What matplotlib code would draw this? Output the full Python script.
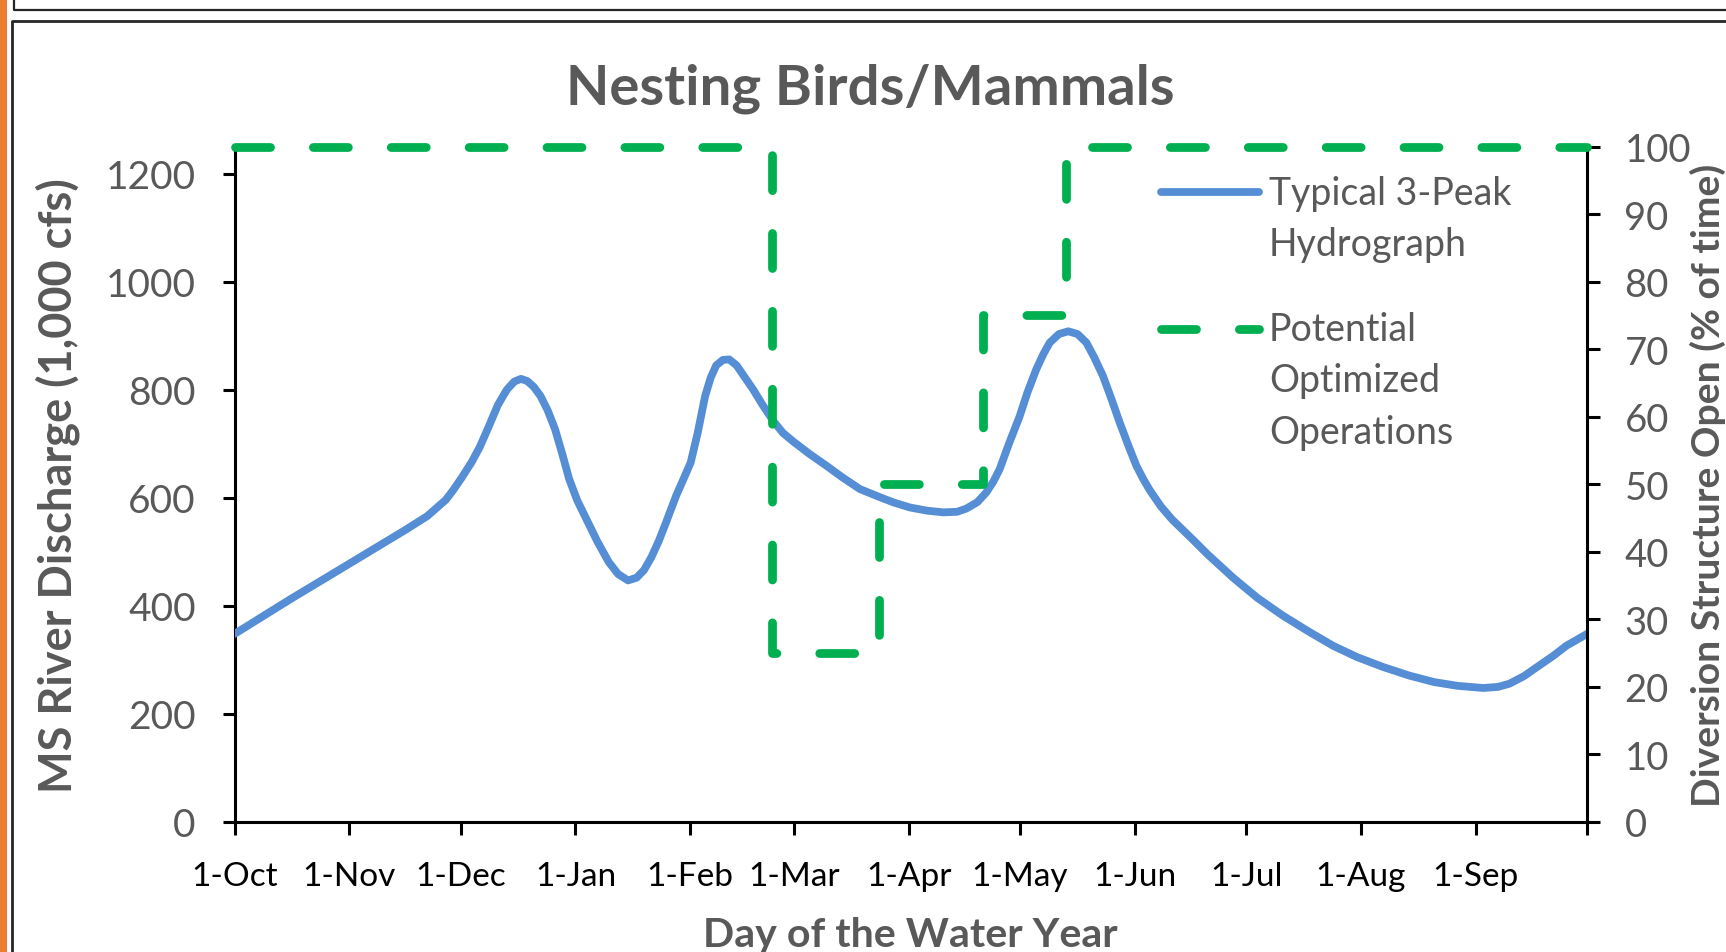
import numpy as np
import matplotlib
matplotlib.use("Agg")
import matplotlib.pyplot as plt
from matplotlib.lines import Line2D
from matplotlib.patches import Rectangle

# ---------------- data ----------------
days = [0, 15, 31, 46, 52, 57, 59, 61.4, 64, 66.2, 68.5, 71.1, 73.5, 75.5, 77.3, 79,
        80.8, 82.6, 84.5, 86.5, 88.5, 90.3, 92.5, 95, 98, 101, 103.5, 106.2, 108.5,
        110.5, 112.5, 114.5, 116.5, 119.2, 121, 123.1, 125, 127, 128.5, 130, 131.8,
        133.5, 135.5, 137.5, 140, 142.5, 145.4, 148, 150.8, 155, 159.8, 164, 168.8,
        174.2, 178, 182.3, 187, 191.3, 195, 197.5, 200.5, 202.9, 204.8, 206.5, 209,
        211.9, 214, 216.4, 218.3, 220, 222.5, 225, 227.5, 229.9, 232, 234.4, 236.7,
        238.9, 241.2, 243.4, 245.3, 247, 250, 253, 256, 259, 262.5, 269.5, 276, 282.9,
        290, 296.5, 303, 309.9, 317, 323.7, 330, 337, 341, 344.1, 348, 352.2, 356,
        359.4, 365]
discharge = [348, 412, 478, 540, 566, 596, 614, 638, 666, 694, 730, 772, 800, 815, 820,
             816, 805, 788, 762, 727, 680, 635, 595, 560, 518, 481, 459, 447, 452, 466,
             490, 520, 555, 604, 632, 665, 720, 788, 822, 845, 855, 856, 845, 825, 800,
             772, 742, 720, 704, 682, 659, 638, 616, 601, 591, 582, 576, 573, 574, 580,
             592, 610, 630, 653, 700, 751, 795, 838, 866, 887, 903, 908, 903, 887, 860,
             825, 782, 739, 697, 659, 634, 614, 584, 560, 540, 520, 496, 452, 415, 382,
             352, 326, 305, 287, 271, 259, 252, 248, 250, 256, 270, 290, 308, 326, 348]

ops_days = [0, 145, 174, 202, 224.5, 365]
ops_pct = [100, 25, 50, 75, 100, 100]

month_ticks = [0, 31, 61, 92, 123, 151, 182, 212, 243, 273, 304, 335, 365]
month_labels = ["1-Oct", "1-Nov", "1-Dec", "1-Jan", "1-Feb", "1-Mar", "1-Apr",
                "1-May", "1-Jun", "1-Jul", "1-Aug", "1-Sep", ""]
left_ticks = [0, 200, 400, 600, 800, 1000, 1200]
right_ticks = [0, 10, 20, 30, 40, 50, 60, 70, 80, 90, 100]

title = "Nesting Birds/Mammals"
series_names = ["Typical 3-Peak\nHydrograph", "Potential\nOptimized\nOperations"]

# ---------------- style ----------------
plt.rcParams["font.family"] = ["Lato", "DejaVu Sans"]
GRAY = "#595959"
BLUE = "#558ED5"
GREEN = "#00B050"
W, H = 1726, 953

fig = plt.figure(figsize=(W / 100, H / 100), dpi=100)
fig.patch.set_facecolor("white")

# decorations (frame of the slide)
fig.add_artist(Rectangle((0, 0), 7 / W, 1, transform=fig.transFigure,
                         facecolor="#ED7D31", edgecolor="none"))
fig.add_artist(Line2D([14 / W, 14 / W, 1], [1, 1 - 11 / H, 1 - 11 / H],
                      transform=fig.transFigure, color="#262626", lw=1.6))
fig.add_artist(Line2D([12 / W, 12 / W, 1], [0, 1 - 22 / H, 1 - 22 / H],
                      transform=fig.transFigure, color="#262626", lw=2.0))

x0, x1 = 234.5, 1587
y0, y1 = 823, 147.5
ax = fig.add_axes([x0 / W, 1 - y0 / H, (x1 - x0) / W, (y0 - y1) / H])
ax2 = ax.twinx()

l1, = ax.plot(days, discharge, color=BLUE, lw=5.6, solid_capstyle="round",
              solid_joinstyle="round", label=series_names[0], zorder=3)
l2, = ax2.step(ops_days, ops_pct, where="post", color=GREEN, lw=6.3,
               dash_capstyle="round", label=series_names[1], clip_on=False, zorder=4)
l2.set_dashes([4.0, 4.9])

ax.set_xlim(0, 365)
ax.set_ylim(0, 1250)
ax2.set_ylim(0, 100)
ax.set_xticks(month_ticks)
ax.set_xticklabels(month_labels)
ax.set_yticks(left_ticks)
ax2.set_yticks(right_ticks)

for a in (ax, ax2):
    a.spines["top"].set_visible(False)
    a.patch.set_visible(False)
ax2.spines["left"].set_visible(False)
ax2.spines["bottom"].set_visible(False)
ax.spines["right"].set_visible(False)
for s in ("left", "bottom"):
    ax.spines[s].set_linewidth(2.2)
ax2.spines["right"].set_linewidth(2.2)

ax.tick_params(axis="y", direction="out", length=9, width=2.2, pad=19,
               labelsize=28, labelcolor=GRAY)
ax.tick_params(axis="x", direction="out", length=9, width=2.2, pad=19,
               labelsize=24, labelcolor="black")
ax2.tick_params(axis="y", direction="out", length=9, width=2.2, pad=18,
                labelsize=27.5, labelcolor=GRAY)

ax.set_ylabel("MS River Discharge (1,000 cfs)", fontsize=32.5, fontweight="bold", color=GRAY)
ax.yaxis.set_label_coords(-0.114, 0.5)
ax2.set_ylabel("Diversion Structure Open (% of time)", fontsize=28.2, fontweight="bold",
               color=GRAY)
ax2.yaxis.set_label_coords(1.076, 0.5)
ax.set_xlabel("Day of the Water Year", fontsize=29.6, fontweight="bold", color=GRAY)
ax.xaxis.set_label_coords(0.5, -0.139)

fig.text(0.504, 0.907, title, ha="center", va="center", fontsize=40.6,
         fontweight="bold", color=GRAY)

leg = ax2.legend(handles=[l1, l2], loc="upper left",
                 bbox_to_anchor=(1161 / W, 1 - 176 / H), bbox_transform=fig.transFigure,
                 frameon=False, fontsize=27, handlelength=2.6, handletextpad=0.28,
                 labelspacing=1.3, borderpad=0, borderaxespad=0)
for t in leg.get_texts():
    t.set_color(GRAY)
    t.set_linespacing(1.53)
# align each handle with the first line of its label
for h, dy in zip(leg.legend_handles, [20.5, 38.0]):
    y = np.asarray(h.get_ydata(), dtype=float)
    h.set_ydata(y + dy)

fig.savefig("out.png", dpi=100, facecolor="white")
